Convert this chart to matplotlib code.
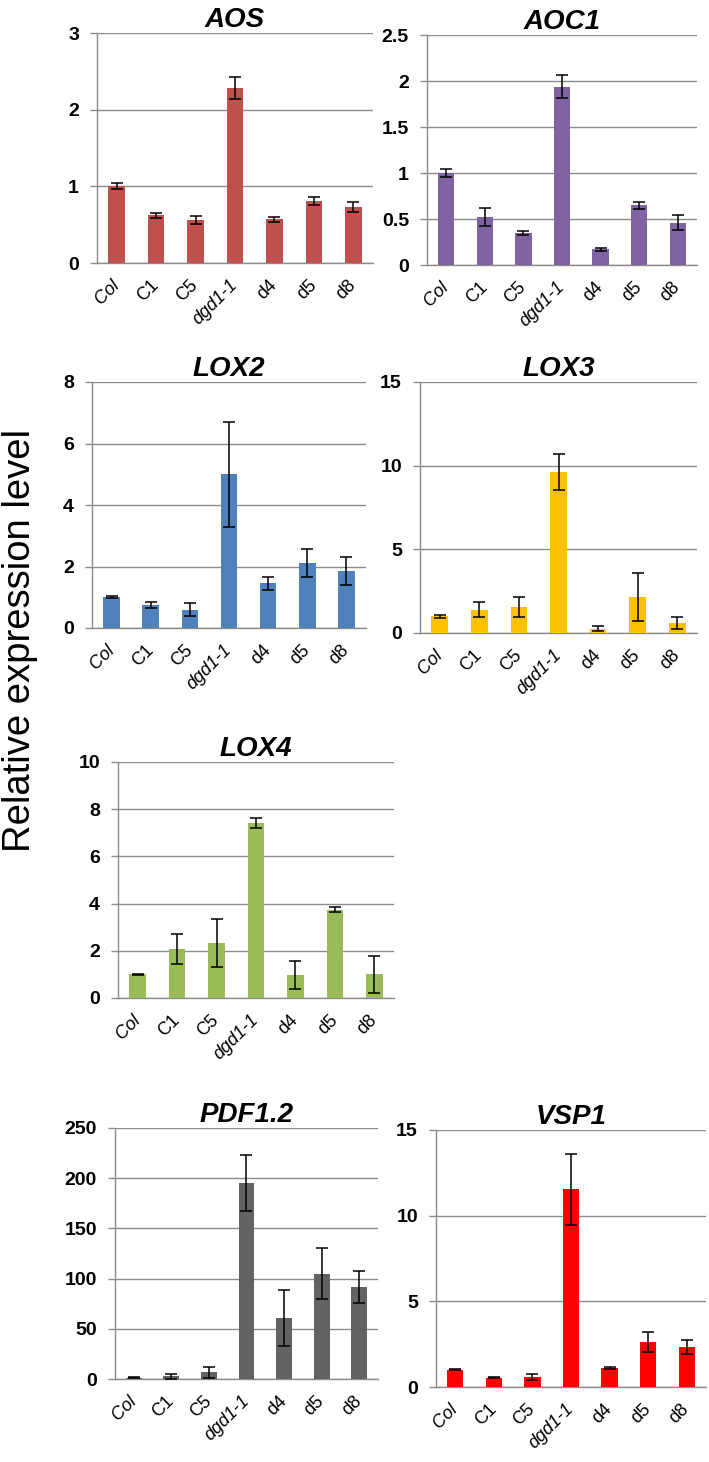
import numpy as np
import matplotlib
matplotlib.use("Agg")
import matplotlib.pyplot as plt

plt.rcParams['font.family'] = ['Liberation Sans', 'DejaVu Sans']

lines = ["Col", "C1", "C5", "dgd1-1", "d4", "d5", "d8"]
italic_lines = ["Col", "dgd1-1"]

# gene data (mean, error)
aos = [1.0, 0.62, 0.56, 2.28, 0.57, 0.81, 0.73]
aos_err = [0.04, 0.035, 0.05, 0.14, 0.03, 0.05, 0.07]

aoc1 = [1.0, 0.52, 0.35, 1.94, 0.17, 0.65, 0.46]
aoc1_err = [0.04, 0.1, 0.025, 0.13, 0.02, 0.04, 0.08]

lox2 = [1.0, 0.75, 0.6, 5.0, 1.45, 2.12, 1.85]
lox2_err = [0.03, 0.1, 0.2, 1.7, 0.22, 0.45, 0.46]

lox3 = [1.0, 1.4, 1.53, 9.6, 0.26, 2.15, 0.6]
lox3_err = [0.08, 0.43, 0.6, 1.07, 0.13, 1.43, 0.37]

lox4 = [1.0, 2.08, 2.34, 7.42, 0.98, 3.75, 1.0]
lox4_err = [0.03, 0.62, 1.02, 0.21, 0.6, 0.1, 0.78]

pdf12 = [1.0, 2.6, 6.5, 195, 61, 105, 92]
pdf12_err = [0.5, 2.3, 5.8, 28, 28, 25.6, 16]

vsp1 = [1.0, 0.53, 0.57, 11.55, 1.11, 2.63, 2.32]
vsp1_err = [0.03, 0.03, 0.18, 2.07, 0.05, 0.56, 0.41]

W, H = 709, 1462
fig = plt.figure(figsize=(W / 100, H / 100), dpi=100)

# (title, values, errors, color, yticks, left, right, top, bottom) in pixels
panels = [
    ("AOS", aos, aos_err, "#C0504D", [0, 1, 2, 3], 97, 373, 33, 263),
    ("AOC1", aoc1, aoc1_err, "#8064A2", [0, 0.5, 1, 1.5, 2, 2.5], 427, 697, 35, 265),
    ("LOX2", lox2, lox2_err, "#4F81BD", [0, 2, 4, 6, 8], 92, 366, 382, 628),
    ("LOX3", lox3, lox3_err, "#FFC000", [0, 5, 10, 15], 420, 697, 382, 633),
    ("LOX4", lox4, lox4_err, "#9BBB59", [0, 2, 4, 6, 8, 10], 118, 394, 762, 998),
    ("PDF1.2", pdf12, pdf12_err, "#636363", [0, 50, 100, 150, 200, 250], 115, 378, 1128, 1379),
    ("VSP1", vsp1, vsp1_err, "#FF0000", [0, 5, 10, 15], 436, 706, 1130, 1387),
]

grid_col = "#8c8c8c"
x = np.arange(len(lines))

for title, vals, errs, col, yt, l, r, t, b in panels:
    ax = fig.add_axes([l / W, 1 - b / H, (r - l) / W, (b - t) / H])
    ax.bar(x, vals, width=0.42, color=col, zorder=3)
    ax.errorbar(x, vals, yerr=errs, fmt='none', ecolor='black', elinewidth=1.1,
                capsize=4.5, capthick=1.1, zorder=4)
    ax.set_xlim(-0.5, len(lines) - 0.5)
    ax.set_ylim(0, yt[-1])
    ax.set_yticks(yt)
    ax.set_yticklabels(['{:g}'.format(v) for v in yt], fontsize=14, fontweight='bold')
    ax.yaxis.grid(True, color=grid_col, lw=1.0, zorder=0)
    ax.set_axisbelow(True)
    for s in ['top', 'right']:
        ax.spines[s].set_visible(False)
    ax.spines['left'].set_color(grid_col)
    ax.spines['bottom'].set_color(grid_col)
    ax.spines['left'].set_linewidth(1.0)
    ax.spines['bottom'].set_linewidth(1.0)
    ax.tick_params(axis='y', length=5, width=1.0, color=grid_col, pad=8)
    ax.tick_params(axis='x', length=0, pad=14)
    ax.set_xticks(x)
    ax.set_xticklabels(lines, rotation=45, ha='right', va='center',
                       rotation_mode='anchor', fontsize=13)
    for lab in ax.get_xticklabels():
        if lab.get_text() in italic_lines:
            lab.set_fontstyle('italic')
    ax.set_title(title, fontsize=20, fontweight='bold', fontstyle='italic', pad=4)

fig.text(20 / W, 1 - 641 / H, "Relative expression level", rotation=90,
         ha='center', va='center', fontsize=27.5)

fig.savefig("out.png", dpi=100)
